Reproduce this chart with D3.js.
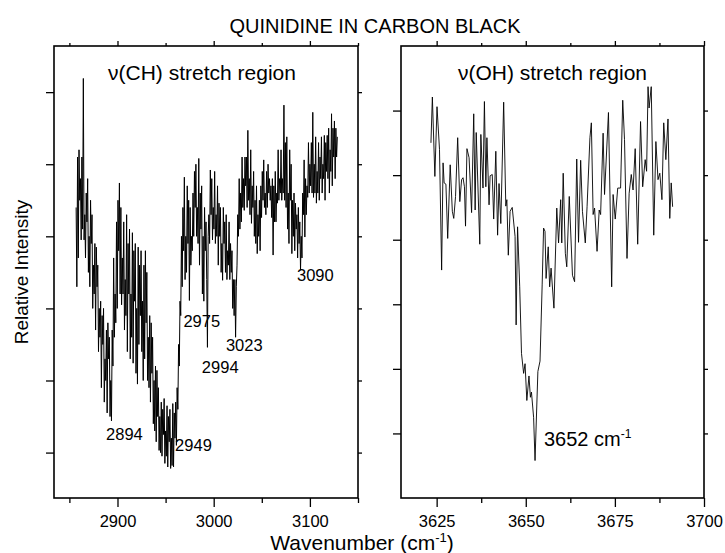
<!DOCTYPE html>
<html>
<head>
<meta charset="utf-8">
<script src="https://cdn.jsdelivr.net/npm/d3@7"></script>
<style>
  html, body { margin: 0; padding: 0; background: #fff; }
  text { font-family: "Liberation Sans", Arial, Helvetica, sans-serif; fill: #000; }
</style>
</head>
<body>
<script>
// ---------------- DATA ----------------
const chartTitle = "QUINIDINE IN CARBON BLACK";
const yAxisTitle = "Relative Intensity";
const regionLabels = ["\u03BD(CH) stretch region", "\u03BD(OH) stretch region"];

const chRange = [2834, 3150];
const ohRange = [3615, 3700];
const chIntensityRange = [0.37, 6.64];
const ohIntensityRange = [0, 7];

const chMajorTicks = [2900, 3000, 3100];
const chMinorTicks = [2850, 2950, 3050, 3150];
const ohMajorTicks = [3625, 3650, 3675, 3700];
const ohMinorTicks = [3637.5, 3662.5, 3687.5];
const intensityTicks = [1, 2, 3, 4, 5, 6];

// nu(CH) spectrum: [wavenumber, relative intensity]
const chSpectrum = [
[2857,4.40],[2857.75,3.30],[2858.5,5.10],[2859.25,3.70],[2860,5.20],[2860.75,4.50],[2861.5,4.80],[2862.25,3.95],
[2863,5.10],[2863.75,4.10],[2864.5,6.19],[2865.25,3.95],[2866,4.30],[2866.75,3.70],[2867.5,4.60],[2868.25,4.20],
[2869,4.80],[2869.75,3.50],[2870.5,4.00],[2871.25,3.30],[2872,4.50],[2872.75,3.90],[2873.5,4.30],[2874.25,3.00],
[2875,3.60],[2875.75,3.20],[2876.5,3.90],[2877.25,2.70],[2878,3.85],[2878.75,3.30],[2879.5,3.60],[2880.25,2.40],
[2881,3.00],[2881.75,2.60],[2882.5,3.10],[2883.25,1.90],[2884,2.90],[2884.75,2.50],[2885.5,3.00],[2886.25,1.70],
[2887,2.30],[2887.75,2.00],[2888.5,2.70],[2889.25,1.55],[2890,2.80],[2890.75,2.30],[2891.5,2.60],[2892.25,1.50],
[2893,2.00],[2893.75,1.44],[2894.5,2.70],[2895.25,2.20],[2896,3.70],[2896.75,2.60],[2897.5,3.20],[2898.25,2.80],
[2899,4.20],[2899.75,3.00],[2900.5,4.50],[2901.25,3.80],[2902,4.74],[2902.75,3.20],[2903.5,4.40],[2904.25,3.05],
[2905,3.70],[2905.75,3.20],[2906.5,4.20],[2907.25,2.70],[2908,3.40],[2908.75,2.90],[2909.5,4.30],[2910.25,2.40],
[2911,3.90],[2911.75,3.20],[2912.5,4.10],[2913.25,2.30],[2914,3.20],[2914.75,2.60],[2915.5,4.05],[2916.25,2.24],
[2917,3.80],[2917.75,3.10],[2918.5,3.90],[2919.25,2.10],[2920,3.00],[2920.75,1.95],[2921.5,3.85],[2922.25,2.50],
[2923,3.60],[2923.75,2.90],[2924.5,3.80],[2925.25,2.40],[2926,3.10],[2926.75,2.00],[2927.5,3.60],[2928.25,2.30],
[2929,3.80],[2929.75,2.80],[2930.5,3.50],[2931.25,2.00],[2932,2.60],[2932.75,1.90],[2933.5,2.90],[2934.25,1.70],
[2935,2.80],[2935.75,2.10],[2936.5,2.60],[2937.25,1.40],[2938,2.00],[2938.75,1.30],[2939.5,2.20],[2940.25,1.15],
[2941,2.14],[2941.75,1.50],[2942.5,1.90],[2943.25,1.03],[2944,1.50],[2944.75,1.00],[2945.5,1.70],[2946.25,0.95],
[2947,1.60],[2947.75,1.25],[2948.5,1.75],[2949.25,0.85],[2950,1.30],[2950.75,0.95],[2951.5,1.65],[2952.25,0.80],
[2953,1.50],[2953.75,1.15],[2954.5,1.60],[2955.25,0.78],[2956,1.20],[2956.75,0.82],[2957.5,1.68],[2958.25,0.80],
[2959,1.55],[2959.75,1.20],[2960.5,1.70],[2961.25,1.10],[2962,1.90],[2962.75,1.60],[2963.5,2.50],[2964.25,2.20],
[2965,3.10],[2965.75,2.90],[2966.5,4.00],[2967.25,3.30],[2968,4.40],[2968.75,3.80],[2969.5,4.82],[2970.25,3.40],
[2971,4.00],[2971.75,3.50],[2972.5,4.70],[2973.25,3.90],[2974,4.50],[2974.75,3.11],[2975.5,4.40],[2976.25,3.60],
[2977,4.00],[2977.75,3.80],[2978.5,4.60],[2979.25,4.00],[2980,4.90],[2980.75,4.40],[2981.5,5.00],[2982.25,4.00],
[2983,4.40],[2983.75,3.90],[2984.5,5.08],[2985.25,3.60],[2986,4.60],[2986.75,4.10],[2987.5,4.70],[2988.25,3.20],
[2989,4.00],[2989.75,3.10],[2990.5,4.40],[2991.25,3.80],[2992,4.20],[2992.75,3.40],[2993.5,2.46],[2994.25,4.00],
[2995,4.30],[2995.75,3.90],[2996.5,4.92],[2997.25,4.30],[2998,4.80],[2998.75,3.95],[2999.5,4.40],[3000.25,4.10],
[3001,4.90],[3001.75,3.90],[3002.5,4.30],[3003.25,4.00],[3004,4.70],[3004.75,3.60],[3005.5,4.46],[3006.25,4.00],
[3007,4.40],[3007.75,3.50],[3008.5,3.90],[3009.25,3.39],[3010,4.40],[3010.75,3.90],[3011.5,4.20],[3012.25,3.50],
[3013,4.30],[3013.75,3.40],[3014.5,3.80],[3015.25,3.60],[3016,4.20],[3016.75,3.40],[3017.5,3.90],[3018.25,3.50],
[3019,3.80],[3019.75,3.00],[3020.5,3.40],[3021.25,2.90],[3022,3.40],[3022.75,2.60],[3023.5,3.30],[3024.25,3.60],
[3025,4.30],[3025.75,4.00],[3026.5,4.80],[3027.25,4.10],[3028,4.60],[3028.75,4.20],[3029.5,5.10],[3030.25,4.40],
[3031,4.80],[3031.75,4.36],[3032.5,5.10],[3033.25,4.70],[3034,5.10],[3034.75,4.40],[3035.5,5.47],[3036.25,4.50],
[3037,4.80],[3037.75,4.30],[3038.5,5.20],[3039.25,4.18],[3040,4.70],[3040.75,4.40],[3041.5,4.90],[3042.25,4.00],
[3043,4.50],[3043.75,3.90],[3044.5,4.70],[3045.25,3.76],[3046,4.30],[3046.75,4.00],[3047.5,4.50],[3048.25,3.80],
[3049,4.70],[3049.75,4.26],[3050.5,4.90],[3051.25,4.50],[3052,5.06],[3052.75,4.40],[3053.5,4.60],[3054.25,4.30],
[3055,4.90],[3055.75,4.40],[3056.5,5.00],[3057.25,4.60],[3058,4.80],[3058.75,4.50],[3059.5,4.70],[3060.25,4.26],
[3061,4.80],[3061.75,3.74],[3062.5,4.70],[3063.25,4.20],[3064,4.90],[3064.75,4.20],[3065.5,4.60],[3066.25,4.46],
[3067,5.20],[3067.75,4.50],[3068.5,4.80],[3069.25,4.60],[3070,5.20],[3070.75,4.50],[3071.5,4.80],[3072.25,4.60],
[3073,5.82],[3073.75,4.50],[3074.5,5.30],[3075.25,4.40],[3076,5.38],[3076.75,4.10],[3077.5,4.60],[3078.25,3.90],
[3079,5.20],[3079.75,4.50],[3080.5,5.00],[3081.25,3.76],[3082,4.50],[3082.75,4.00],[3083.5,4.60],[3084.25,3.80],
[3085,4.46],[3085.75,4.10],[3086.5,4.30],[3087.25,3.70],[3088,4.40],[3088.75,3.90],[3089.5,4.20],[3090.25,3.53],
[3091,4.00],[3091.75,3.70],[3092.5,4.60],[3093.25,4.30],[3094,5.06],[3094.75,3.99],[3095.5,4.80],[3096.25,4.30],
[3097,4.70],[3097.75,4.54],[3098.5,5.30],[3099.25,4.60],[3100,5.00],[3100.75,4.70],[3101.5,5.30],[3102.25,4.60],
[3103,5.72],[3103.75,4.54],[3104.5,5.00],[3105.25,4.60],[3106,5.38],[3106.75,4.46],[3107.5,4.90],[3108.25,4.60],
[3109,5.30],[3109.75,4.50],[3110.5,5.10],[3111.25,4.80],[3112,5.38],[3112.75,4.60],[3113.5,5.00],[3114.25,4.80],
[3115,5.40],[3115.75,4.50],[3116.5,5.30],[3117.25,4.90],[3118,5.40],[3118.75,4.80],[3119.5,5.50],[3120.25,4.60],
[3121,5.20],[3121.75,4.90],[3122.5,5.70],[3123.25,4.70],[3124,5.50],[3124.75,5.10],[3125.5,5.60],[3126.25,4.80],
[3127,5.50],[3127.75,5.10],[3128.5,5.38]
];

// nu(OH) spectrum: [wavenumber, relative intensity]
const ohSpectrum = [
[3623.4,5.50],[3623.8,6.21],[3624.5,4.98],[3625.1,6.06],[3625.8,5.40],[3626.4,3.53],[3626.8,5.19],[3627.1,4.88],
[3627.6,4.86],[3628.1,4.02],[3628.8,5.16],[3629.4,4.44],[3629.8,4.33],[3630.3,4.67],[3630.9,5.58],[3631.5,4.59],
[3632.0,4.93],[3632.4,4.96],[3632.8,4.82],[3633.1,4.21],[3633.5,5.41],[3634.1,5.27],[3634.8,4.42],[3635.4,5.95],
[3635.8,4.46],[3636.1,5.66],[3637.1,3.93],[3637.4,5.63],[3638.0,4.80],[3638.4,6.14],[3638.8,4.82],[3639.1,5.58],
[3639.7,4.54],[3640.0,4.99],[3640.6,5.01],[3641.0,4.32],[3641.6,5.37],[3642.1,4.07],[3642.5,4.87],[3643.0,4.25],
[3643.8,6.13],[3644.4,4.52],[3644.7,4.62],[3645.1,3.76],[3645.6,4.44],[3646.2,4.50],[3647.0,4.05],[3647.3,2.68],
[3647.7,4.20],[3648.3,3.27],[3648.8,2.24],[3649.4,1.93],[3649.8,2.08],[3650.3,1.51],[3650.9,1.89],[3651.3,1.56],
[3651.6,1.64],[3652.2,1.25],[3652.6,0.58],[3653.4,1.96],[3654.0,2.12],[3654.6,3.30],[3655.0,4.18],[3655.4,4.13],
[3655.7,3.40],[3656.3,3.89],[3656.7,3.27],[3657.1,3.56],[3657.9,2.94],[3658.7,4.49],[3659.2,3.95],[3659.8,4.62],
[3660.1,3.95],[3660.5,5.03],[3661.1,3.79],[3661.5,3.58],[3662.2,4.67],[3663.1,3.45],[3663.7,3.35],[3664.3,5.25],
[3664.8,3.96],[3665.4,5.23],[3665.9,4.44],[3666.7,3.95],[3667.2,4.51],[3668.0,5.58],[3668.4,5.81],[3668.9,4.39],
[3669.3,4.49],[3670.0,3.82],[3670.6,4.46],[3671.0,4.39],[3671.7,5.65],[3672.1,4.70],[3673.2,5.97],[3674.1,3.27],
[3674.5,4.70],[3675.1,4.32],[3675.8,4.80],[3676.6,4.80],[3677.2,6.16],[3677.7,5.55],[3678.4,3.71],[3679.0,4.72],
[3679.6,5.01],[3680.1,4.77],[3680.7,5.41],[3681.4,3.93],[3682.2,5.83],[3682.8,4.82],[3683.5,5.24],[3683.9,5.06],
[3684.3,6.37],[3684.6,6.04],[3685.2,6.37],[3685.9,4.07],[3686.5,5.52],[3687.1,4.93],[3687.6,5.03],[3688.2,4.62],
[3688.7,5.81],[3689.3,5.24],[3689.9,5.87],[3690.4,4.33],[3690.8,4.88],[3691.2,4.51]
];

// peak annotations: [text, wavenumber of text start, intensity of text baseline]
const chPeakLabels = [
  ["2894", 2888.1, 1.18],
  ["2949", 2959.9, 1.02],
  ["2975", 2968.5, 2.74],
  ["2994", 2987.7, 2.10],
  ["3023", 3012.7, 2.41],
  ["3090", 3086.6, 3.38]
];
const ohPeakLabels = [
  ["3652", 3655.1, 0.80]
];

// ---------------- LAYOUT ----------------
const W = 725, H = 553;
const plotTop = 46, plotBottom = 498;
const FONT = '"Liberation Sans", Arial, Helvetica, sans-serif';

const svg = d3.select("body").append("svg")
  .attr("width", W).attr("height", H)
  .style("display", "block");

svg.append("rect").attr("width", W).attr("height", H).attr("fill", "#fff");

const panels = [
  { data: chSpectrum, xd: chRange, yd: chIntensityRange, x0: 54, x1: 358,
    major: chMajorTicks, minor: chMinorTicks, label: regionLabels[0], peaks: chPeakLabels,
    lw: 1.0, unit: false },
  { data: ohSpectrum, xd: ohRange, yd: ohIntensityRange, x0: 401, x1: 704,
    major: ohMajorTicks, minor: ohMinorTicks, label: regionLabels[1], peaks: ohPeakLabels,
    lw: 0.9, unit: true }
];

panels.forEach(p => {
  const x = d3.scaleLinear().domain(p.xd).range([p.x0, p.x1]);
  const y = d3.scaleLinear().domain(p.yd).range([plotBottom, plotTop]);
  const g = svg.append("g");

  const bMaj = g.append("g").attr("transform", `translate(0,${plotBottom})`)
    .call(d3.axisBottom(x).tickValues(p.major).tickSize(9).tickPadding(8)
      .tickFormat(d3.format("d")));
  const bMin = g.append("g").attr("transform", `translate(0,${plotBottom})`)
    .call(d3.axisBottom(x).tickValues(p.minor).tickSize(5).tickFormat(""));
  const tMaj = g.append("g").attr("transform", `translate(0,${plotTop})`)
    .call(d3.axisTop(x).tickValues(p.major).tickSize(5).tickFormat(""));
  const tMin = g.append("g").attr("transform", `translate(0,${plotTop})`)
    .call(d3.axisTop(x).tickValues(p.minor).tickSize(3).tickFormat(""));
  const lAx = g.append("g").attr("transform", `translate(${p.x0},0)`)
    .call(d3.axisLeft(y).tickValues(intensityTicks).tickSize(8).tickFormat(""));
  const rAx = g.append("g").attr("transform", `translate(${p.x1},0)`)
    .call(d3.axisRight(y).tickValues(intensityTicks).tickSize(4).tickFormat(""));

  [bMaj, bMin, tMaj, tMin, lAx, rAx].forEach(a => {
    a.select(".domain").remove();
    a.selectAll(".tick line").attr("stroke", "#000").attr("stroke-width", 1.3);
  });
  bMaj.selectAll(".tick text")
    .attr("font-family", FONT).attr("font-size", 16.5).attr("fill", "#000");

  g.append("rect")
    .attr("x", p.x0).attr("y", plotTop)
    .attr("width", p.x1 - p.x0).attr("height", plotBottom - plotTop)
    .attr("fill", "none").attr("stroke", "#000").attr("stroke-width", 1.6);

  const line = d3.line().x(d => x(d[0])).y(d => y(d[1]));
  g.append("path").datum(p.data)
    .attr("d", line)
    .attr("fill", "none").attr("stroke", "#000")
    .attr("stroke-width", p.lw).attr("stroke-linejoin", "miter");

  g.append("text")
    .attr("x", (p.x0 + p.x1) / 2 - (p.unit ? 0 : 4)).attr("y", 80)
    .attr("text-anchor", "middle")
    .attr("font-size", 21)
    .text(p.label);

  p.peaks.forEach(pk => {
    const t = g.append("text")
      .attr("x", x(pk[1])).attr("y", y(pk[2]))
      .attr("font-size", p.unit ? 20 : 16.5)
      .text(pk[0]);
    if (p.unit) {
      t.append("tspan").text(" cm");
      t.append("tspan").attr("dy", -8).attr("font-size", 12).text("-1");
    }
  });
});

svg.append("text")
  .attr("x", 375).attr("y", 33)
  .attr("text-anchor", "middle")
  .attr("font-size", 20)
  .text(chartTitle);

svg.append("text")
  .attr("transform", `translate(28,${(plotTop + plotBottom) / 2}) rotate(-90)`)
  .attr("text-anchor", "middle")
  .attr("font-size", 19)
  .text(yAxisTitle);

const xt = svg.append("text")
  .attr("x", 362).attr("y", 550)
  .attr("text-anchor", "middle")
  .attr("font-size", 21);
xt.append("tspan").text("Wavenumber (cm");
xt.append("tspan").attr("dy", -8).attr("font-size", 13).text("-1");
xt.append("tspan").attr("dy", 8).text(")");
</script>
</body>
</html>
